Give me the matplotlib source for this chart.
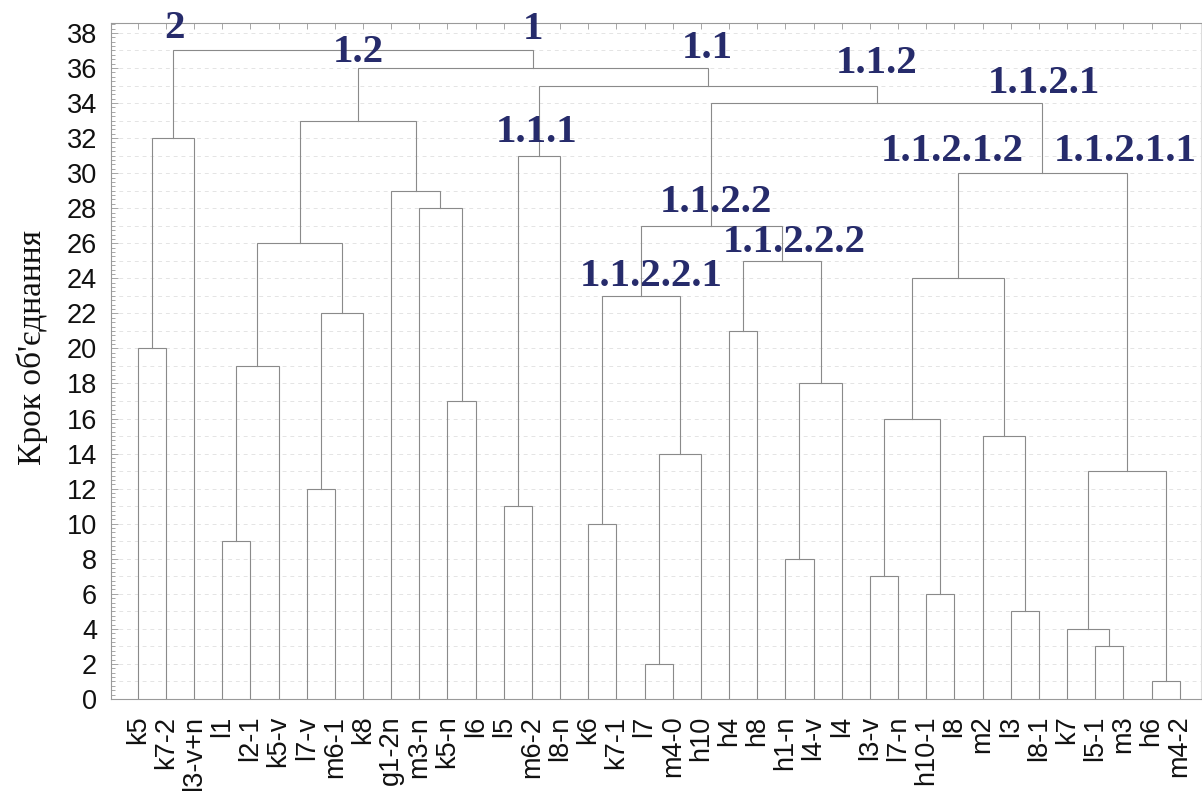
import matplotlib
matplotlib.use("Agg")
import matplotlib.pyplot as plt
from matplotlib.ticker import MultipleLocator

# ---------------- data ----------------
leaves = ["k5", "k7-2", "l3-v+n", "l1", "l2-1", "k5-v", "l7-v", "m6-1", "k8",
          "g1-2n", "m3-n", "k5-n", "l6", "l5", "m6-2", "l8-n", "k6", "k7-1",
          "l7", "m4-0", "h10", "h4", "h8", "h1-n", "l4-v", "l4", "l3-v", "l7-n",
          "h10-1", "l8", "m2", "l3", "l8-1", "k7", "l5-1", "m3", "h6", "m4-2"]

# merge steps (linkage style): child A, child B -> new id (38 + row), step height
merge_a = [36, 18, 34, 33, 31, 28, 26, 23, 3, 16, 13, 6, 41, 39, 30, 44, 11, 45,
           46, 0, 21, 49, 47, 53, 58, 56, 60, 10, 9, 61, 48, 57, 63, 64, 68, 70, 69]
merge_b = [37, 19, 35, 40, 32, 29, 27, 24, 4, 17, 14, 7, 38, 20, 42, 43, 12, 25,
           5, 1, 22, 8, 51, 52, 55, 59, 62, 54, 65, 50, 15, 2, 66, 67, 71, 72, 73]
merge_step = list(range(1, 38))

cluster_names = ["2", "1", "1.2", "1.1", "1.1.2", "1.1.2.1", "1.1.1",
                 "1.1.2.1.2", "1.1.2.1.1", "1.1.2.2", "1.1.2.2.2", "1.1.2.2.1"]

# layout (label centres in data coordinates)
label_x = [2.32, 15.05, 8.83, 21.23, 27.24, 33.17, 15.15, 29.94, 36.05, 21.55, 24.32, 19.24]
label_y = [38.28, 38.22, 36.9, 37.14, 36.28, 35.1, 32.3, 31.26, 31.26, 28.35, 26.07, 24.13]

# ---------------- plot ----------------
fig = plt.figure(figsize=(12.02, 7.91), dpi=100)
ax = fig.add_axes([0.0923, 0.1163, 0.9067, 0.8547])

n = len(leaves)
xpos = {i: i + 1.0 for i in range(n)}
hgt = {i: 0.0 for i in range(n)}
line_col = "#8a8a8a"
for k, (a, b, h) in enumerate(zip(merge_a, merge_b, merge_step)):
    xa, xb = xpos[a], xpos[b]
    ax.plot([xa, xa, xb, xb], [hgt[a], h, h, hgt[b]], color=line_col, lw=0.8,
            solid_joinstyle="miter", zorder=3)
    new = n + k
    xpos[new] = (xa + xb) / 2.0
    hgt[new] = h

for name, x, y in zip(cluster_names, label_x, label_y):
    ax.text(x, y, name, ha="center", va="center", fontsize=29.5, fontweight="bold",
            family="Liberation Serif", color="#262b6b", zorder=5)

ax.set_xlim(0.05, 38.75)
ax.set_ylim(0, 38.57)

ax.set_xticks([i + 1 for i in range(n)])
ax.set_xticklabels(leaves, rotation=90, family="Liberation Sans", fontsize=19.5,
                   color="#111111")
ax.yaxis.set_major_locator(MultipleLocator(2))
ax.yaxis.set_minor_locator(MultipleLocator(0.25))
for lab in ax.get_yticklabels():
    lab.set_family("Liberation Sans")
ax.tick_params(axis="y", which="major", direction="in", length=5, width=0.6,
               labelsize=19.5, pad=10, colors="#999999", labelcolor="#111111")
ax.tick_params(axis="y", which="minor", direction="in", length=3, width=0.6,
               colors="#999999")
ax.tick_params(axis="x", which="major", direction="in", length=4, width=0.6,
               top=True, bottom=False, pad=12, colors="#999999",
               labelcolor="#111111")
for t in ax.get_xticklabels():
    t.set_va("top")

for yv in range(1, 39):
    ax.axhline(yv, color="#e4e4e4", lw=0.7, ls=(0, (4, 4)), zorder=1)

for s in ax.spines.values():
    s.set_color("#9a9a9a")
    s.set_linewidth(0.8)
ax.spines["right"].set_color("#dddddd")

ax.set_ylabel("Крок об'єднання", family="Liberation Serif", fontsize=24,
              color="#111111")
ax.yaxis.set_label_coords(-0.058, 0.52)

fig.savefig("out.png", dpi=100)
